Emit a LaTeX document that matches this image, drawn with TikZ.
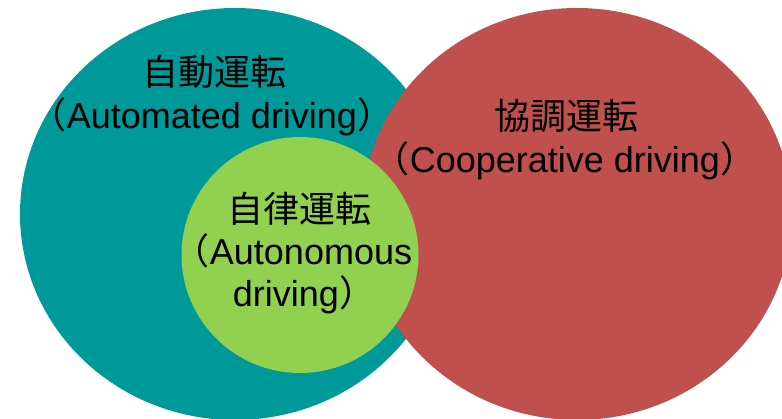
\documentclass[tikz,border=0pt]{standalone}
\usepackage{fontspec}
\setmainfont{Liberation Sans}
\newfontfamily\cjk{Noto Sans CJK JP}
\usetikzlibrary{shapes.geometric}
\definecolor{tealc}{RGB}{0,153,153}
\definecolor{redc}{RGB}{192,80,77}
\definecolor{greenc}{RGB}{146,208,80}
\tikzset{
  blob/.style={ellipse, draw=none, inner sep=0pt},
  lbl/.style={anchor=base, inner sep=0pt, font=\fontsize{36}{42}\selectfont, text=black}
}
\begin{document}
\begin{tikzpicture}[x=1pt, y=-1pt]
\useasboundingbox (0,0) rectangle (782,419);
\clip (0,0) rectangle (782,419);
\node[blob, fill=tealc, minimum width=430pt, minimum height=412pt] (auto) at (235,214) {};
\node[blob, fill=redc, minimum width=430pt, minimum height=412pt] (coop) at (577,214) {};
\node[blob, fill=greenc, minimum width=237pt, minimum height=236pt] (autn) at (300,255) {};
\node[lbl] (autoj) at (214,86) {\cjk 自動運転};
\node[lbl] (autoe) at (212,129) {{\cjk （}Automated driving{\cjk ）}};
\node[lbl] (coopj) at (566,130) {\cjk 協調運転};
\node[lbl] (coope) at (565,173) {{\cjk （}Cooperative driving{\cjk ）}};
\node[lbl] (autnj) at (299,223) {\cjk 自律運転};
\node[lbl] (autne1) at (293,265) {{\cjk （}Autonomous};
\node[lbl] (autne2) at (304,307) {driving{\cjk ）}};
\end{tikzpicture}
\end{document}
